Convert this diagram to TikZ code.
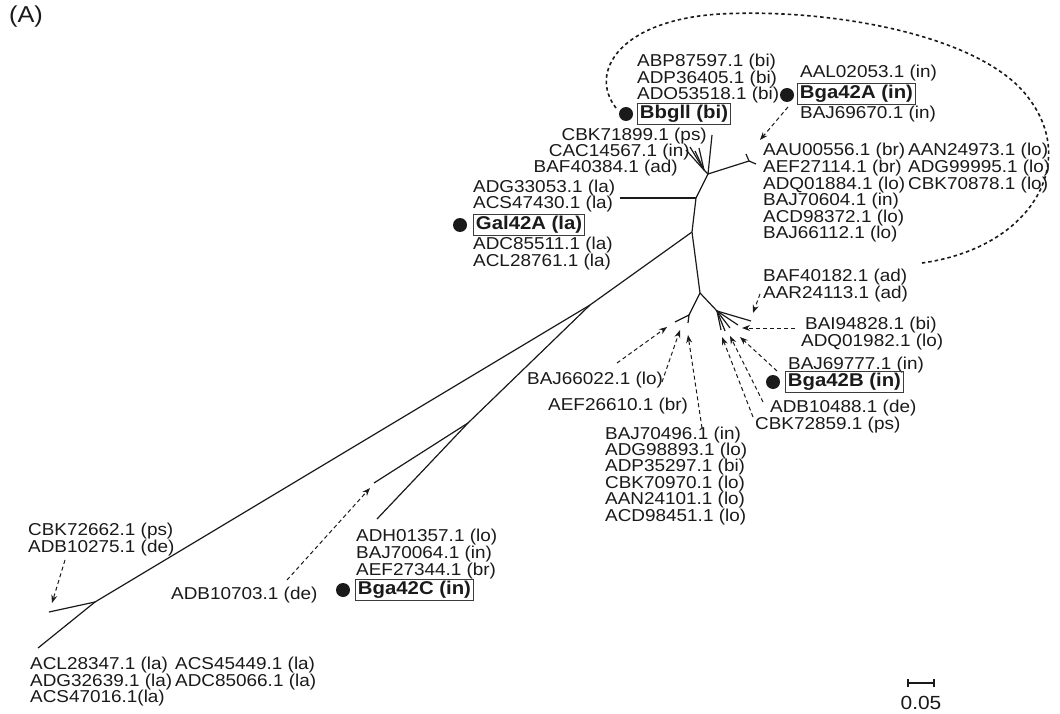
\documentclass[tikz,border=0pt]{standalone}
\usepackage{fontspec}
\setmainfont{Liberation Sans}[FakeStretch=1.1]
\usetikzlibrary{arrows.meta}
\definecolor{ink}{HTML}{1A1A1A}
\begin{document}
\begin{tikzpicture}[x=1pt,y=-1pt,
  lbl/.style={font=\fontsize{17.2}{17}\selectfont, text=ink, inner sep=0pt, anchor=base west},
  lblr/.style={lbl, anchor=base east},
  bx/.style={draw=ink!85, line width=0.9pt, font=\fontsize{18.5}{19}\selectfont\bfseries, text=ink, inner xsep=2.5pt, inner ysep=2pt, anchor=west},
  blob/.style={circle, fill=ink, inner sep=0pt, minimum size=14pt},
  br/.style={line width=1.2pt, draw=ink},
  arr/.style={draw=ink, dash pattern=on 4pt off 3pt, line width=1pt, -{Stealth[length=8pt,width=6pt]}},
  loopd/.style={draw=ink, dash pattern=on 3.5pt off 3pt, line width=1.6pt}]
\useasboundingbox (0,0) rectangle (1060,714);
\fill[white] (0,0) rectangle (1060,714);

\node[font=\fontsize{23}{24}\selectfont, text=ink, inner sep=0pt] (panel) at (26,17) {(A)};

% ---------- tree ----------
\coordinate (J1) at (708,174);
\coordinate (F) at (704,170);
\coordinate (Ftop) at (712,135);
\coordinate (f1) at (686,150);
\coordinate (f2) at (690,147);
\coordinate (f3) at (695,151);
\coordinate (f4) at (699,148);
\coordinate (Y) at (749,161);
\coordinate (y1) at (746,154);
\coordinate (y2) at (756,164);
\coordinate (J2) at (696,198);
\coordinate (H) at (620,198);
\coordinate (J3) at (692,232);
\coordinate (J4) at (700,293);
\coordinate (L) at (689,315);
\coordinate (l1) at (675,322);
\coordinate (l2) at (688,323);
\coordinate (R) at (717,311);
\coordinate (r1) at (721,330);
\coordinate (r2) at (725,331);
\coordinate (r3) at (730,328);
\coordinate (r4) at (738,325);
\coordinate (r5) at (751,321);
\coordinate (J5) at (590,305);
\coordinate (J6) at (468,423);
\coordinate (e1) at (377,519);
\coordinate (e2) at (374,483);
\coordinate (J7) at (95,602);
\coordinate (b1) at (49,612);
\coordinate (b2) at (38,648);

\draw[br] (J1) -- (Ftop);
\draw[br] (J1) -- (F);
\foreach \e in {f1,f2,f3,f4} \draw[br] (F) -- (\e);
\draw[br] (J1) -- (Y);
\draw[br] (Y) -- (y1);
\draw[br] (Y) -- (y2);
\draw[br] (J1) -- (J2) -- (J3) -- (J4);
\draw[br] (J2) -- (H);
\draw[br] (J4) -- (L);
\draw[br] (L) -- (l1);
\draw[br] (L) -- (l2);
\draw[br] (J4) -- (R);
\foreach \e in {r1,r2,r3,r4,r5} \draw[br] (R) -- (\e);
\draw[br] (J3) -- (J5) -- (J7) -- (b2);
\draw[br] (J7) -- (b1);
\draw[br] (J5) -- (J6) -- (e1);
\draw[br] (J6) -- (e2);

% ---------- labels ----------
\foreach \t [count=\i from 0] in {{ABP87597.1 (bi)},{ADP36405.1 (bi)},{ADO53518.1 (bi)}}
  \node[lbl] (gbi\i) at (637,{67+16.3*\i}) {\t};
\node[bx] (bbg) at (637,114) {Bbgll (bi)};
\node[blob] (dbbg) at (626,114) {};

\node[lbl] (aal) at (800,78) {AAL02053.1 (in)};
\node[bx] (bga) at (797,94) {Bga42A (in)};
\node[blob] (dbga) at (787,95) {};
\node[lbl] (baj69670) at (800,119) {BAJ69670.1 (in)};

\node[lblr] (cbk71899) at (707,141) {CBK71899.1 (ps)};
\node[lblr] (cac14567) at (690,157) {CAC14567.1 (in)};
\node[lblr] (baf40384) at (678,173) {BAF40384.1 (ad)};

\node[lbl] (adg33053) at (473,193) {ADG33053.1 (la)};
\node[lbl] (acs47430) at (473,209) {ACS47430.1 (la)};
\node[bx] (gal) at (473,225) {Gal42A (la)};
\node[blob] (dgal) at (460,225) {};
\node[lbl] (adc85511) at (473,250) {ADC85511.1 (la)};
\node[lbl] (acl28761) at (473,266) {ACL28761.1 (la)};

\foreach \t [count=\i from 0] in {{AAU00556.1 (br)},{AEF27114.1 (br)},{ADQ01884.1 (lo)},{BAJ70604.1 (in)},{ACD98372.1 (lo)},{BAJ66112.1 (lo)}}
  \node[lbl] (rc\i) at (763,{156+16.6*\i}) {\t};
\foreach \t [count=\i from 0] in {{AAN24973.1 (lo)},{ADG99995.1 (lo)},{CBK70878.1 (lo)}}
  \node[lbl] (rd\i) at (908,{156+16.6*\i}) {\t};

\node[lbl] (baf40182) at (763,281) {BAF40182.1 (ad)};
\node[lbl] (aar24113) at (763,298) {AAR24113.1 (ad)};
\node[lbl] (bai94828) at (805,329) {BAI94828.1 (bi)};
\node[lbl] (adq01982) at (801,346) {ADQ01982.1 (lo)};
\node[lbl] (baj69777) at (788,369) {BAJ69777.1 (in)};
\node[bx] (bgb) at (785,382) {Bga42B (in)};
\node[blob] (dbgb) at (773,382) {};
\node[lbl] (adb10488) at (770,412) {ADB10488.1 (de)};
\node[lbl] (cbk72859) at (755,429) {CBK72859.1 (ps)};

\node[lbl] (baj66022) at (527,384) {BAJ66022.1 (lo)};
\node[lbl] (aef26610) at (548,410) {AEF26610.1 (br)};
\foreach \t [count=\i from 0] in {{BAJ70496.1 (in)},{ADG98893.1 (lo)},{ADP35297.1 (bi)},{CBK70970.1 (lo)},{AAN24101.1 (lo)},{ACD98451.1 (lo)}}
  \node[lbl] (bc\i) at (605,{439+16.4*\i}) {\t};

\foreach \t [count=\i from 0] in {{ADH01357.1 (lo)},{BAJ70064.1 (in)},{AEF27344.1 (br)}}
  \node[lbl] (hc\i) at (356,{541+17*\i}) {\t};
\node[bx] (bgc) at (355,590) {Bga42C (in)};
\node[blob] (dbgc) at (343,590) {};
\node[lbl] (adb10703) at (171,599) {ADB10703.1 (de)};

\node[lbl] (cbk72662) at (28,535) {CBK72662.1 (ps)};
\node[lbl] (adb10275) at (28,552) {ADB10275.1 (de)};

\node[lbl] (acl28347) at (30,669) {ACL28347.1 (la)};
\node[lbl] (adg32639) at (30,686) {ADG32639.1 (la)};
\node[lbl] (acs47016) at (30,702) {ACS47016.1(la)};
\node[lbl] (acs45449) at (175,669) {ACS45449.1 (la)};
\node[lbl] (adc85066) at (175,686) {ADC85066.1 (la)};

% ---------- dashed arrows ----------
\coordinate (s1) at (788,107);  \coordinate (t1) at (760,140);
\coordinate (s2) at (760,294);  \coordinate (t2) at (753,313);
\coordinate (s3) at (795,328);  \coordinate (t3) at (742,328);
\coordinate (s4) at (777,371);  \coordinate (t4) at (740,337);
\coordinate (s5) at (763,402);  \coordinate (t5) at (730,336);
\coordinate (s6) at (753,417);  \coordinate (t6) at (722,337);
\coordinate (s7) at (617,363);  \coordinate (t7) at (667,327);
\coordinate (s8) at (662,382);  \coordinate (t8) at (680,330);
\coordinate (s9) at (702,428);  \coordinate (t9) at (688,335);
\coordinate (s10) at (287,580); \coordinate (t10) at (370,488);
\coordinate (s11) at (65,560);  \coordinate (t11) at (52,603);
\foreach \k in {1,...,11} \draw[arr] (s\k) -- (t\k);

% ---------- dashed loop ----------
\coordinate (c0) at (616,108);
\coordinate (c1) at (720,14);
\coordinate (c2) at (1030,100);
\coordinate (c3) at (922,263);
\draw[loopd] (c0) .. controls (588,72) and (620,20) .. (c1)
  .. controls (830,8) and (985,35) .. (c2)
  .. controls (1078,165) and (1030,248) .. (c3);

% ---------- scale bar ----------
\coordinate (sb1) at (908,683);
\coordinate (sb2) at (934,683);
\draw[ink, line width=1.1pt] (sb1) -- (sb2);
\draw[ink, line width=1.1pt] ([yshift=-4pt]sb1) -- ([yshift=4pt]sb1);
\draw[ink, line width=1.1pt] ([yshift=-4pt]sb2) -- ([yshift=4pt]sb2);
\node[font=\fontsize{19}{20}\selectfont, text=ink, inner sep=0pt] (sbl) at (921,703) {0.05};
\end{tikzpicture}
\end{document}
